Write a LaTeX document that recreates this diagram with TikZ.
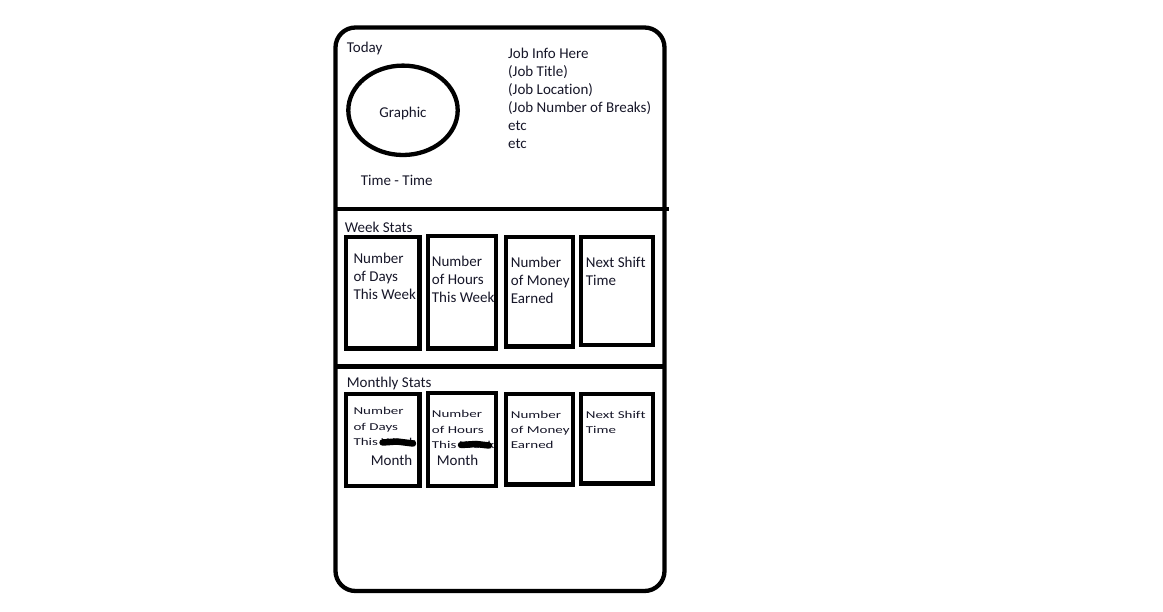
\documentclass[tikz,border=0pt]{standalone}
\usepackage{fontspec}
\usepackage{graphicx}
\setmainfont[Ligatures={NoCommon}]{Carlito}
\definecolor{ink}{RGB}{22,22,40}
\tikzset{
  frame/.style={draw=black, line width=4.3pt},
  statbox/.style={draw=black, line width=4.5pt},
  txt/.style={font=\fontsize{15}{18}\selectfont, anchor=base west, inner sep=0pt, text=ink},
  sq/.style={txt},
  scribble/.style={draw=black, line width=6.5pt, line cap=round}
}
\newcommand{\sqz}[1]{\scalebox{1}[0.7]{#1}}
\begin{document}
\begin{tikzpicture}[x=1pt,y=-1pt]
\useasboundingbox (0,0) rectangle (1163,612);
% outer phone frame
\draw[frame, rounded corners=20pt] (335.5,27.5) rectangle (664.5,591);
\draw[frame] (335.5,209) -- (669,209);
\draw[frame] (335.5,366.5) -- (664.5,366.5);
% Today section
\node[txt] (today) at (346.7,53) {Today};
\draw[frame] (403,110.3) ellipse [x radius=54.7, y radius=44.7];
\node[txt, anchor=base] (graphic) at (403,118) {Graphic};
\node[txt] (time) at (360.7,186) {Time - Time};
\node[txt] (j1) at (508,59) {Job Info Here};
\node[txt] (j2) at (508,77) {(Job Title)};
\node[txt] (j3) at (508,95) {(Job Location)};
\node[txt] (j4) at (508,113) {(Job Number of Breaks)};
\node[txt] (j5) at (508,131) {etc};
\node[txt] (j6) at (508,149) {etc};
% Week stats
\node[txt] (weekstats) at (344.7,232.7) {Week Stats};
\draw[statbox] (346.2,237.2) rectangle (419.5,348.5);
\draw[statbox] (428,236.2) rectangle (496,348.5);
\draw[statbox] (506,237.2) rectangle (573,346.5);
\draw[statbox] (581,237.2) rectangle (653,345.2);
\node[txt] (w1a) at (353.3,263.3) {Number};
\node[txt] (w1b) at (353.3,281.3) {of Days};
\node[txt] (w1c) at (353.3,299.3) {This Week};
\node[txt] (w2a) at (431.7,266.3) {Number};
\node[txt] (w2b) at (431.7,284.3) {of Hours};
\node[txt] (w2c) at (431.7,302.3) {This Week};
\node[txt] (w3a) at (510.7,267.7) {Number};
\node[txt] (w3b) at (510.7,285.7) {of Money};
\node[txt] (w3c) at (510.7,303.7) {Earned};
\node[txt] (w4a) at (585.7,267.7) {Next Shift};
\node[txt] (w4b) at (585.7,285.7) {Time};
% Monthly stats
\node[txt] (monthstats) at (346.7,387.7) {Monthly Stats};
\draw[statbox] (346.2,394) rectangle (419.5,486.2);
\draw[statbox] (428,393.2) rectangle (496,486);
\draw[statbox] (506,394.2) rectangle (573,484.5);
\draw[statbox] (581,394.2) rectangle (653,483.5);
\node[sq] (m1a) at (353.3,415) {\sqz{Number}};
\node[sq] (m1b) at (353.3,430.3) {\sqz{of Days}};
\node[sq] (m1c) at (353.3,445.6) {\sqz{This Week}};
\draw[scribble] (382.5,442.5) -- (397,441.5) -- (413,443.5);
\node[txt] (m1d) at (370.7,466) {Month};
\node[sq] (m2a) at (431.7,418) {\sqz{Number}};
\node[sq] (m2b) at (431.7,433.2) {\sqz{of Hours}};
\node[sq] (m2c) at (431.7,448.4) {\sqz{This Week}};
\draw[scribble] (461,445) -- (476,444) -- (489,445.5);
\node[txt] (m2d) at (436.7,466) {Month};
\node[sq] (m3a) at (510.7,419) {\sqz{Number}};
\node[sq] (m3b) at (510.7,434) {\sqz{of Money}};
\node[sq] (m3c) at (510.7,449) {\sqz{Earned}};
\node[sq] (m4a) at (585.7,419) {\sqz{Next Shift}};
\node[sq] (m4b) at (585.7,434) {\sqz{Time}};
\end{tikzpicture}
\end{document}
